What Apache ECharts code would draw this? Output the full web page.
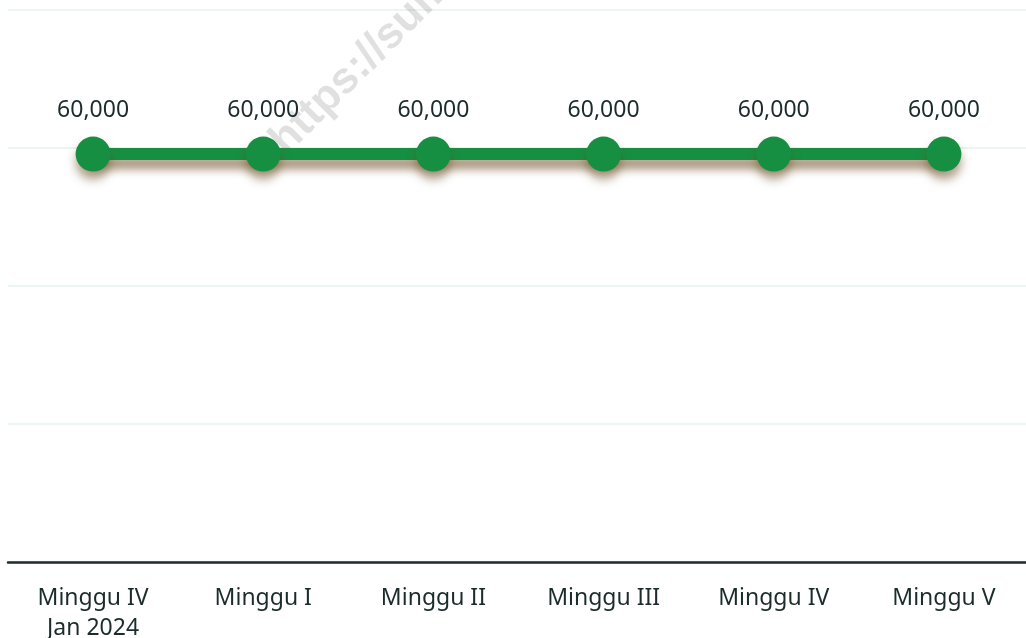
<!DOCTYPE html>
<html>
<head>
<meta charset="utf-8">
<script src="https://cdn.jsdelivr.net/npm/echarts@6/dist/echarts.min.js"></script>
<style>
  html, body { margin: 0; padding: 0; background: #fff; }
  #chart { width: 1026px; height: 638px; }
</style>
</head>
<body>
<div id="chart"></div>
<script>
var weeks = ['Minggu IV\nJan 2024', 'Minggu I', 'Minggu II', 'Minggu III', 'Minggu IV', 'Minggu V'];
var values = [60000, 60000, 60000, 60000, 60000, 60000];

var myChart = echarts.init(document.getElementById('chart'));

var option = {
    animation: false,
    textStyle: { fontFamily: '"Noto Sans", sans-serif' },
    grid: { left: 8, width: 1021, top: 10, bottom: 76, outerBoundsMode: 'none', containLabel: false },
    graphic: [{
        type: 'text',
        x: 262, y: 132,
        rotation: Math.PI / 4,
        z: 1,
        style: {
            text: 'https://sumbarprov.go.id',
            font: 'bold 44px "Liberation Sans", sans-serif',
            fill: 'rgba(0,0,0,0.12)'
        }
    }],
    xAxis: {
        type: 'category',
        data: weeks,
        axisLine: { lineStyle: { color: '#1c2b2b', width: 2.5 } },
        axisTick: { show: false },
        axisLabel: {
            color: '#1c2b2b',
            fontSize: 23,
            lineHeight: 30,
            margin: 21,
            interval: 0
        }
    },
    yAxis: {
        type: 'value',
        min: 0,
        max: 81200,
        interval: 20300,
        axisLabel: { show: false },
        axisLine: { show: false },
        axisTick: { show: false },
        splitLine: { lineStyle: { color: '#e5f2ee', width: 1.5 } }
    },
    series: [{
        type: 'line',
        z: 5,
        data: values,
        symbol: 'circle',
        symbolSize: 35,
        itemStyle: {
            color: '#178f42',
            shadowColor: 'rgba(100,70,25,0.5)',
            shadowBlur: 10,
            shadowOffsetY: 8
        },
        lineStyle: {
            color: '#178f42',
            width: 12,
            shadowColor: 'rgba(100,70,25,0.6)',
            shadowBlur: 10,
            shadowOffsetY: 9
        },
        label: {
            show: true,
            position: 'top',
            distance: 15,
            color: '#1c2b2b',
            fontSize: 23,
            formatter: function (p) { return p.value.toLocaleString('en-US'); }
        }
    }]
};
myChart.setOption(option);
</script>
</body>
</html>
